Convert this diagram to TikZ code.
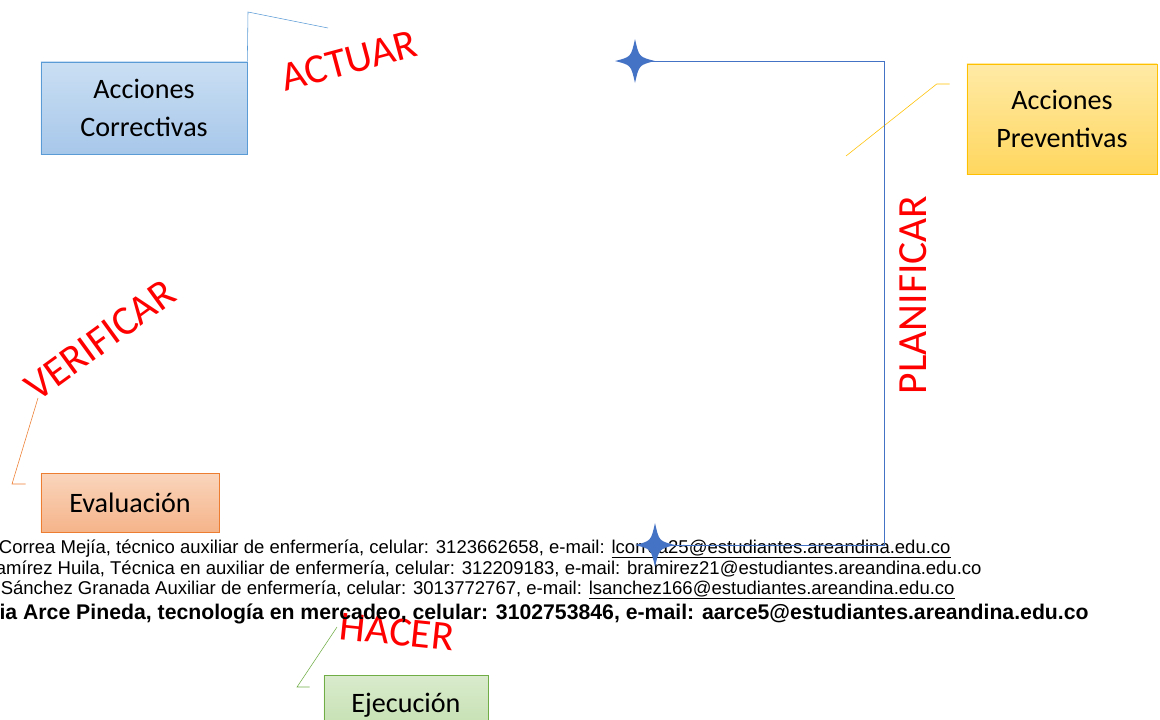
\documentclass[tikz,border=0pt]{standalone}
\usepackage{fontspec}
\setmainfont{Liberation Sans}
\newfontfamily\calib{Carlito}
\usetikzlibrary{positioning}

\definecolor{pathblue}{HTML}{4472C4}
\definecolor{corrline}{HTML}{5B9BD5}
\definecolor{prevline}{HTML}{FFC000}
\definecolor{evalline}{HTML}{ED7D31}
\definecolor{ejecline}{HTML}{70AD47}
\definecolor{corrtop}{HTML}{CADFF3}
\definecolor{corrbot}{HTML}{A7C7EA}
\definecolor{prevtop}{HTML}{FFEAA6}
\definecolor{prevbot}{HTML}{FFD75F}
\definecolor{evaltop}{HTML}{FAD5BC}
\definecolor{evalbot}{HTML}{F5B48A}
\definecolor{ejectop}{HTML}{D9EBCD}
\definecolor{ejecbot}{HTML}{C3DFAE}

\begin{document}
\begin{tikzpicture}[x=0.025cm,y=-0.025cm,
  box/.style={draw,align=center,inner sep=0pt,
    font=\calib\fontsize{20}{27.5}\selectfont},
  tag/.style={text=red,inner sep=0pt,font=\calib\fontsize{29.5}{29.5}\selectfont},
  info/.style={anchor=base east,inner sep=0pt,font=\fontsize{13.17}{15}\selectfont},
  sparkle/.style={fill=pathblue}]
\useasboundingbox (0,0) rectangle (1160,719);
\clip (0,0) rectangle (1160,719);

% boxes
\node[box,draw=corrline,top color=corrtop,bottom color=corrbot,
  minimum width=5.15cm,minimum height=2.3cm] (corr) at (144,108) {Acciones\\Correctivas};
\node[box,draw=prevline,top color=prevtop,bottom color=prevbot,
  minimum width=4.75cm,minimum height=2.75cm] (prev) at (1062,119) {Acciones\\Preventivas};
\node[box,draw=evalline,top color=evaltop,bottom color=evalbot,
  minimum width=4.45cm,minimum height=1.475cm] (eval) at (130,502.5) {Evaluación};
\node[box,draw=ejecline,top color=ejectop,bottom color=ejecbot,
  minimum width=4.1cm,minimum height=1.5cm] (ejec) at (406,705) {Ejecución};

% red words
\node[tag,rotate=15] (actuar) at (349,61) {ACTUAR};
\node[tag,rotate=90] (planif) at (913,295) {PLANIFICAR};
\node[tag,rotate=36] (verif) at (100,340) {VERIFICAR};
\node[tag,rotate=-6] (hacer) at (397,632) {HACER};

% callout lines
\draw[corrline] (corr.north east) -- (248,12) -- (328,28);
\draw[prevline] (prev.west |- 0,84) ++(-17,0) -- ++(-13,0) -- (846,156);
\draw[evalline] (eval.west |- 0,484) ++(-15,0) -- (12,484) -- (38,398);
\draw[ejecline] (ejec.west |- 0,687) ++(-14,0) -- (297,687) -- (337,627);

% contact lines
\node[info] (l1) at (951,553) {Correa Mejía, técnico auxiliar de enfermería, celular: 3123662658, e-mail: \underline{lcorrea25@estudiantes.areandina.edu.co}};
\node[info] (l2) at (982,574) {amírez Huila, Técnica en auxiliar de enfermería, celular: 312209183, e-mail: bramirez21@estudiantes.areandina.edu.co};
\node[info] (l3) at (955,594) {Sánchez Granada Auxiliar de enfermería, celular: 3013772767, e-mail: \underline{lsanchez166@estudiantes.areandina.edu.co}};
\node[info,font=\bfseries\fontsize{15.1}{17}\selectfont] (l4) at (1089,619) {cia Arce Pineda, tecnología en mercadeo, celular: 3102753846, e-mail: aarce5@estudiantes.areandina.edu.co};

% path with stars
\coordinate (s1) at (635,61);
\coordinate (s2) at (655,545);
\draw[pathblue] (s1) -- (884,61) |- (s2);
\foreach \s in {s1,s2}
  \fill[sparkle,shift={(\s)}] (0,-22) .. controls (4,-4) .. (20,0) .. controls (4,4) .. (0,22)
    .. controls (-4,4) .. (-20,0) .. controls (-4,-4) .. cycle;
\end{tikzpicture}
\end{document}
